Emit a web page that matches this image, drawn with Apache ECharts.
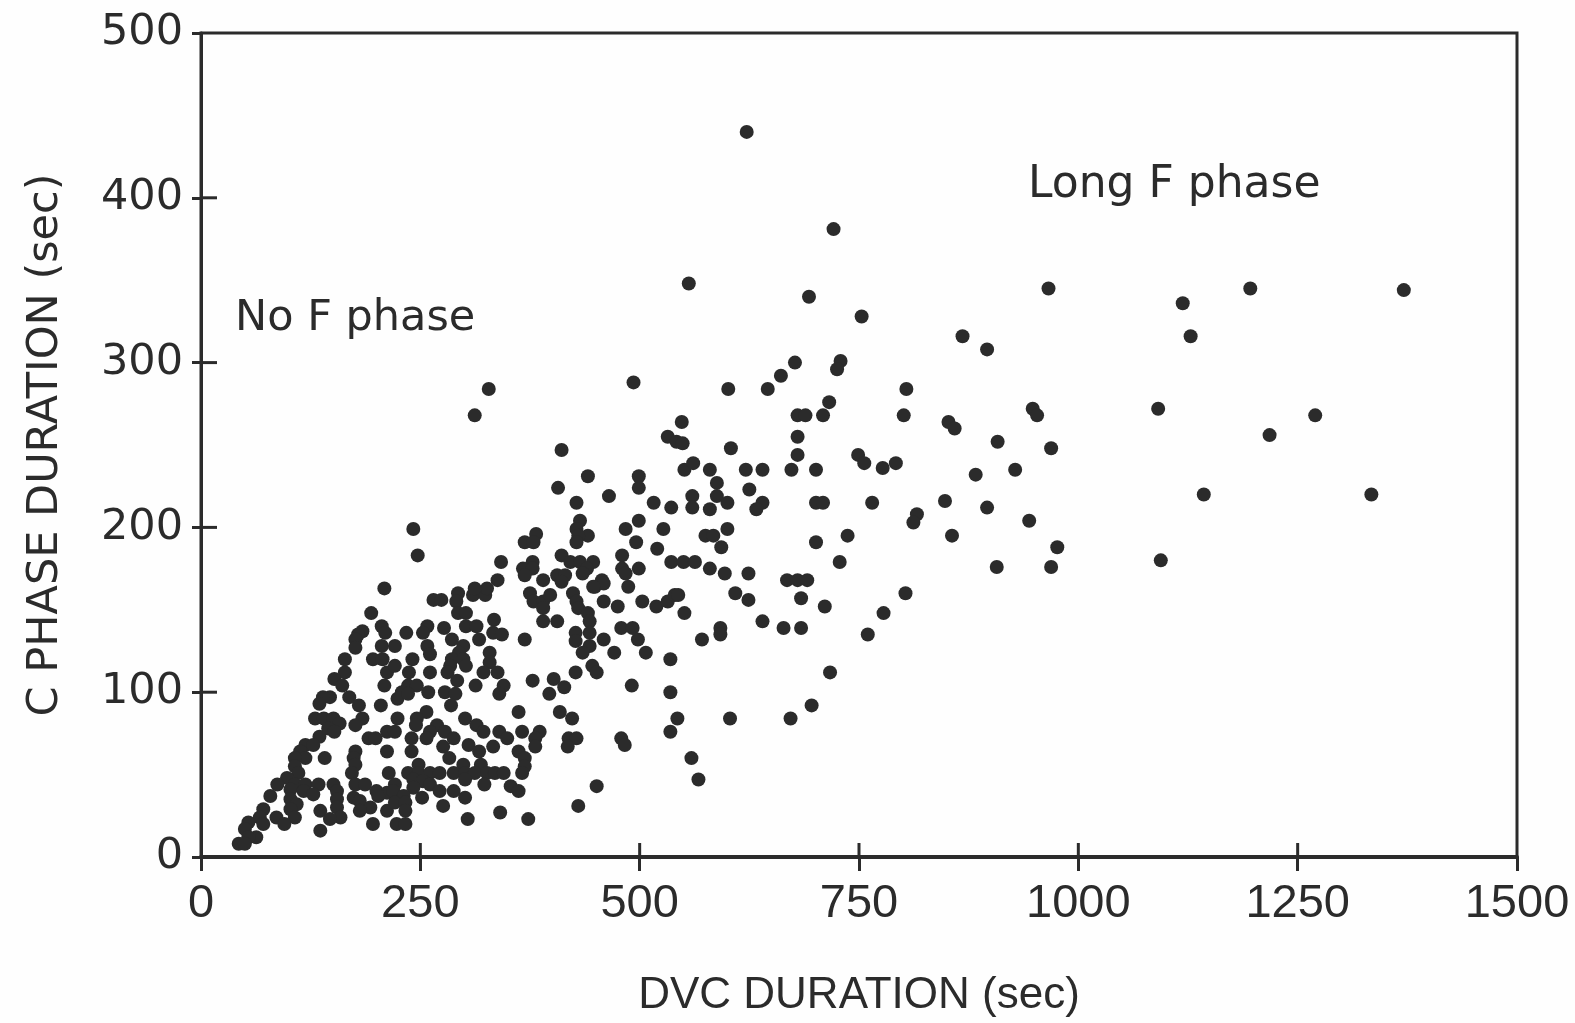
<!DOCTYPE html>
<html>
<head>
<meta charset="utf-8">
<title>C phase duration vs DVC duration</title>
<script src="https://cdn.jsdelivr.net/npm/echarts@6/dist/echarts.min.js"></script>
<style>
  html, body { margin: 0; padding: 0; background: #fefefe; }
  #chart { width: 1575px; height: 1023px; }
</style>
</head>
<body>
<div id="chart"></div>
<script>
// [DVC duration, C phase duration], both in seconds
const originCluster = [
  [209,163],[194,148],[206,140],[210,136],[184,137],[179,135],[176,132],[176,127],[206,128],[196,120],
  [207,120],[164,120],[164,112],[212,112],[152,108],[161,104],[209,104],[147,97],[139,97],[135,93],
  [169,97],[180,92],[205,92],[184,84],[176,80],[130,84],[140,84],[151,84],[158,81],[145,78],
  [152,76],[135,73],[191,72],[199,72],[212,76],[119,68],[128,68],[113,64],[176,64],[212,64],
  [119,60],[141,60],[107,60],[174,60],[176,56],[107,55],[172,51],[214,51],[111,51],[98,48],
  [87,44],[107,44],[119,44],[134,44],[151,44],[176,44],[187,44],[102,41],[117,40],[128,38],
  [155,40],[200,40],[212,39],[79,37],[102,35],[155,35],[174,36],[181,34],[202,37],[109,32],
  [193,30],[155,30],[71,29],[102,29],[136,28],[181,28],[212,28],[86,24],[107,24],[159,24],
  [67,24],[147,23],[54,21],[95,20],[71,20],[196,20],[50,17],[136,16],[63,12],[54,12],
  [43,8],[50,8]
];
const lowerCluster = [
  [293,160],[265,156],[274,156],[291,155],[310,159],[324,159],[293,148],[302,148],[302,140],[314,140],
  [334,144],[333,136],[343,135],[369,132],[317,132],[375,160],[379,155],[390,155],[398,159],[390,151],
  [390,143],[406,143],[234,136],[258,140],[253,136],[277,139],[286,132],[221,128],[258,128],[261,123],
  [299,128],[294,124],[241,120],[329,124],[329,118],[286,120],[299,120],[284,116],[221,116],[237,112],
  [302,116],[261,112],[281,112],[322,112],[338,112],[292,107],[378,107],[402,108],[414,103],[397,99],
  [313,104],[345,104],[340,99],[236,104],[246,104],[229,100],[224,96],[236,99],[259,100],[278,100],
  [290,99],[285,92],[362,88],[257,88],[246,84],[245,80],[224,84],[301,84],[314,80],[409,88],
  [423,84],[269,80],[261,76],[278,76],[322,76],[340,76],[366,76],[386,76],[221,76],[257,72],
  [288,72],[349,72],[381,72],[381,67],[419,72],[428,72],[418,67],[240,72],[276,67],[305,68],
  [333,67],[240,64],[317,64],[362,64],[283,60],[248,56],[369,60],[369,55],[299,56],[319,56],
  [236,51],[248,51],[261,51],[272,51],[288,51],[301,51],[312,51],[326,51],[335,51],[345,51],
  [366,51],[242,47],[253,46],[301,47],[221,44],[219,40],[242,42],[261,44],[353,43],[323,44],
  [272,40],[288,40],[362,40],[231,37],[252,36],[301,36],[221,33],[233,33],[276,31],[233,28],
  [430,31],[223,20],[233,20],[341,27],[304,23],[373,23]
];
const middleCluster = [
  [328,284],[312,268],[493,288],[548,264],[532,255],[542,252],[549,251],[411,247],[441,231],[499,231],
  [499,224],[551,235],[561,239],[407,224],[465,219],[428,215],[516,215],[536,212],[560,219],[560,212],
  [242,199],[247,183],[432,204],[428,199],[441,195],[430,195],[428,191],[382,196],[369,191],[379,191],
  [484,199],[499,204],[496,191],[527,199],[520,187],[342,179],[411,183],[421,179],[432,179],[447,179],
  [480,183],[480,175],[484,172],[499,175],[536,179],[550,179],[563,179],[378,179],[367,175],[378,175],
  [369,171],[440,175],[435,172],[390,168],[406,171],[415,171],[411,167],[457,168],[449,164],[338,168],
  [326,163],[312,163],[487,164],[424,160],[428,155],[430,151],[441,148],[443,143],[443,136],[427,136],
  [427,131],[459,155],[475,152],[503,155],[519,152],[532,155],[540,159],[544,159],[551,148],[459,132],
  [443,128],[435,124],[471,124],[507,124],[535,120],[446,116],[451,112],[427,112],[479,139],[492,139],
  [498,132],[491,104],[535,100],[543,84],[535,76],[479,72],[483,68],[559,60],[567,47],[451,43],
  [459,166],[447,164],[571,132],[592,139],[592,135]
];
const upperCluster = [
  [677,300],[661,292],[646,284],[601,284],[729,301],[725,296],[804,284],[716,276],[680,268],[689,268],
  [709,268],[801,268],[680,255],[604,248],[680,244],[749,244],[756,239],[792,239],[777,236],[701,235],
  [673,235],[580,235],[621,235],[640,235],[588,227],[625,223],[588,219],[600,215],[640,215],[633,211],
  [580,211],[701,215],[709,215],[765,215],[816,208],[812,203],[600,199],[575,195],[584,195],[737,195],
  [701,191],[593,188],[580,175],[597,172],[624,172],[728,179],[668,168],[680,168],[691,168],[803,160],
  [609,160],[624,156],[684,157],[711,152],[640,143],[664,139],[684,139],[717,112],[696,92],[603,84],
  [672,84],[778,148],[760,135]
];
const sparseCluster = [
  [556,348],[622,440],[721,381],[693,340],[753,328],[966,345],[1119,336],[1128,316],[1196,345],[1371,344],
  [868,316],[896,308],[948,272],[953,268],[1091,272],[852,264],[859,260],[908,252],[969,248],[928,235],
  [883,232],[1143,220],[848,216],[896,212],[944,204],[856,195],[976,188],[907,176],[969,176],[1094,180],
  [1218,256],[1270,268],[1334,220]
];

// ticks that cross the axis line, the axis itself only draws the outer half
const xInnerTicks = [250, 500, 750, 1000, 1250];
const yInnerTicks = [100, 200, 300, 400];

const ink = '#2b2b2b';

let myChart = echarts.init(document.getElementById('chart'));

let option = {
  animation: false,
  backgroundColor: '#fefefe',
  grid: {
    left: 201,
    top: 33,
    width: 1316,
    height: 824,
    outerBoundsMode: 'none',
    show: true,
    borderColor: ink,
    borderWidth: 3
  },
  xAxis: {
    type: 'value',
    min: 0,
    max: 1500,
    interval: 250,
    name: 'DVC DURATION (sec)',
    nameLocation: 'middle',
    nameGap: 117,
    nameTextStyle: { color: ink, fontFamily: 'Liberation Sans', fontSize: 44 },
    splitLine: { show: false },
    axisLine: { show: true, lineStyle: { color: ink, width: 4 } },
    axisTick: { show: true, length: 14, lineStyle: { color: ink, width: 3 } },
    axisLabel: {
      color: ink,
      fontFamily: 'Liberation Sans',
      fontSize: 47,
      margin: 24,
      formatter: (v) => String(v)
    }
  },
  yAxis: {
    type: 'value',
    min: 0,
    max: 500,
    interval: 100,
    name: 'C PHASE DURATION (sec)',
    nameLocation: 'middle',
    nameGap: 134,
    nameTextStyle: { color: ink, fontFamily: 'DejaVu Sans', fontSize: 43 },
    splitLine: { show: false },
    axisLine: { show: true, lineStyle: { color: ink, width: 3 } },
    axisTick: { show: true, length: 9, lineStyle: { color: ink, width: 3 } },
    axisLabel: { color: ink, fontFamily: 'DejaVu Sans', fontSize: 43, margin: 18 }
  },
  graphic: [
    {
      type: 'text',
      left: 235,
      top: 297,
      style: { text: 'No F phase', fill: ink, font: '43px "DejaVu Sans"' }
    },
    {
      type: 'text',
      left: 1028,
      top: 164,
      style: { text: 'Long F phase', fill: ink, font: '44px "DejaVu Sans"' }
    }
  ],
  series: [
    {
      type: 'scatter',
      symbolSize: 14,
      itemStyle: { color: ink, opacity: 1 },
      data: [...originCluster, ...lowerCluster, ...middleCluster, ...upperCluster, ...sparseCluster]
    },
    {
      type: 'scatter',
      clip: false,
      silent: true,
      symbol: 'rect',
      symbolSize: [3, 14],
      symbolOffset: [0, -7],
      itemStyle: { color: ink, opacity: 1 },
      data: xInnerTicks.map((v) => [v, 0])
    },
    {
      type: 'scatter',
      clip: false,
      silent: true,
      symbol: 'rect',
      symbolSize: [16, 3],
      symbolOffset: [8, 0],
      itemStyle: { color: ink, opacity: 1 },
      data: yInnerTicks.map((v) => [0, v])
    }
  ]
};

option && myChart.setOption(option);
</script>
</body>
</html>
